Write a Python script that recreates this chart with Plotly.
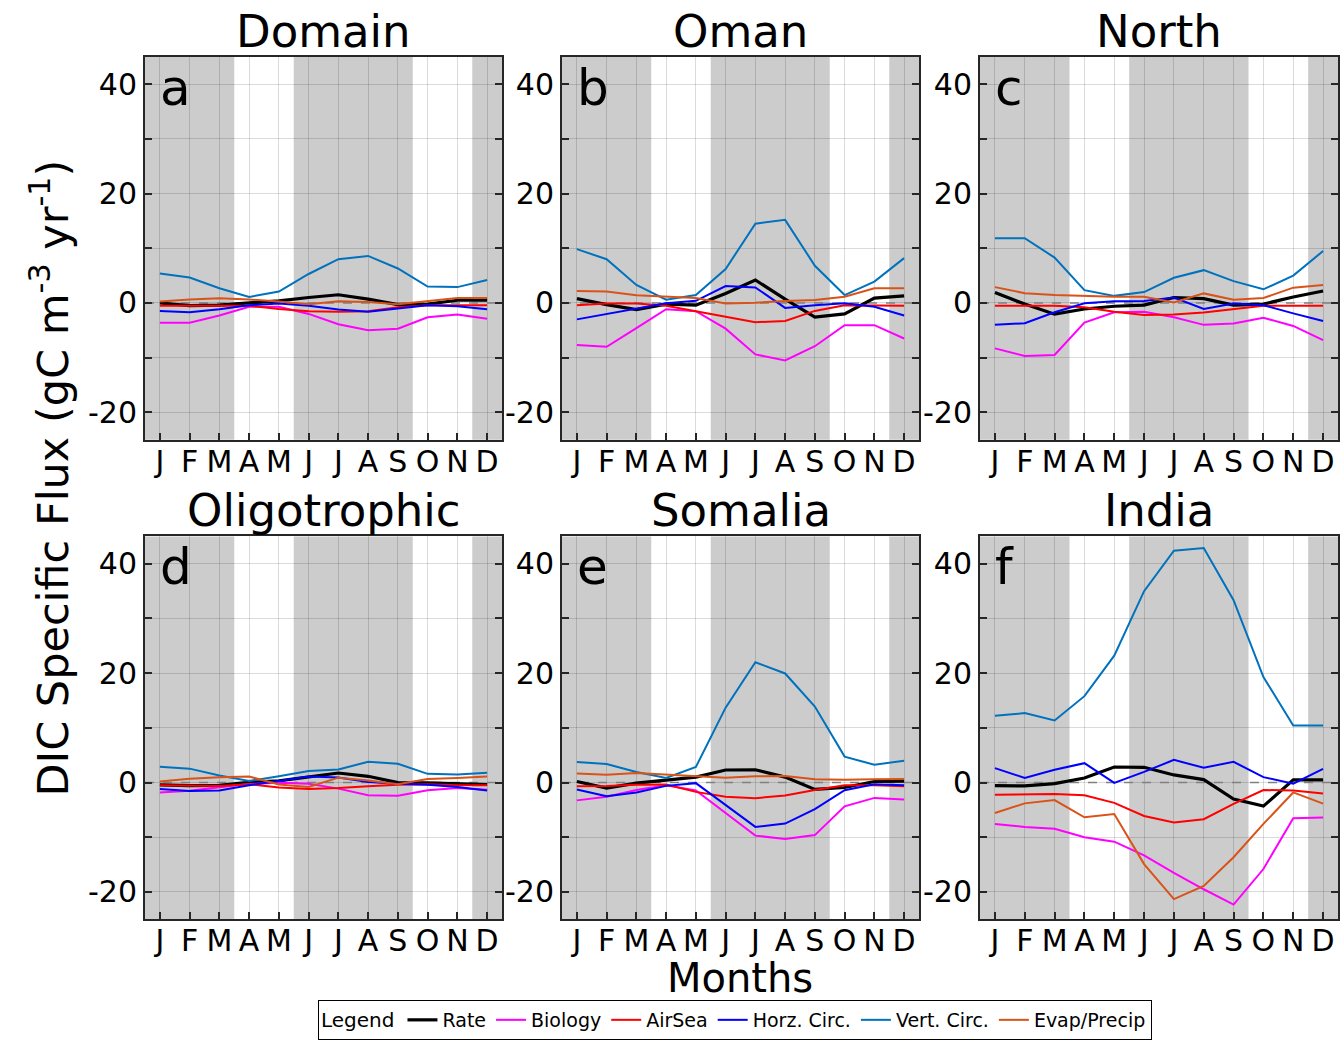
import plotly.graph_objects as go

W, H = 1341, 1040

months = [1, 2, 3, 4, 5, 6, 7, 8, 9, 10, 11, 12]
month_labels = ["J", "F", "M", "A", "M", "J", "J", "A", "S", "O", "N", "D"]
regions = ["Domain", "Oman", "North", "Oligotrophic", "Somalia", "India"]
panel_letters = ["a", "b", "c", "d", "e", "f"]
series_names = ["Rate", "Biology", "AirSea", "Horz. Circ.", "Vert. Circ.", "Evap/Precip"]
# shaded monsoon seasons (month coordinates)
season_bounds = [(0.5, 3.5), (5.5, 9.5), (11.5, 12.5)]
x_range = [0.5, 12.5]
zero_ref = [0, 0]

# ---- Domain (a)
domain_rate = [0.0, -0.5, -0.4, 0.0, 0.4, 1.0, 1.5, 0.7, -0.3, -0.2, 0.5, 0.5]
domain_bio = [-3.6, -3.6, -2.3, -0.7, -0.7, -2.0, -3.9, -5.0, -4.7, -2.6, -2.1, -2.9]
domain_airsea = [-0.5, -0.5, -0.5, -0.5, -1.1, -1.5, -1.6, -1.5, -0.8, -0.4, -0.4, -0.4]
domain_horz = [-1.45, -1.7, -1.15, -0.4, -0.1, -0.5, -1.2, -1.6, -1.0, -0.4, -0.6, -1.15]
domain_vert = [5.4, 4.65, 2.7, 1.1, 2.1, 5.3, 8.0, 8.6, 6.3, 3.0, 2.9, 4.2]
domain_evap = [0.25, 0.65, 0.85, 0.65, 0.25, -0.25, 0.3, 0.2, -0.25, 0.3, 0.9, 0.9]

# ---- Oman (b)
oman_rate = [0.8, -0.3, -1.2, -0.2, -0.4, 1.75, 4.2, 0.7, -2.6, -2.0, 0.9, 1.3]
oman_bio = [-7.7, -8.0, -4.6, -1.15, -1.5, -4.7, -9.4, -10.5, -7.9, -4.05, -4.05, -6.5]
oman_airsea = [-0.4, -0.1, -0.1, -0.5, -1.5, -2.5, -3.5, -3.3, -1.45, -0.4, -0.5, -0.5]
oman_horz = [-3.0, -2.05, -1.0, -0.05, 0.4, 3.1, 2.85, -0.9, -0.4, -0.05, -0.7, -2.3]
oman_vert = [9.85, 8.0, 3.3, 0.6, 1.45, 6.2, 14.5, 15.2, 6.8, 1.45, 3.9, 8.2]
oman_evap = [2.2, 2.1, 1.4, 1.15, 0.9, -0.1, 0.05, 0.35, 0.55, 1.15, 2.7, 2.7]

# ---- North (c)
north_rate = [1.9, -0.2, -2.05, -1.1, -0.6, -0.4, 1.0, 0.8, -0.4, -0.2, 1.1, 2.2]
north_bio = [-8.3, -9.7, -9.5, -3.6, -1.7, -1.6, -2.6, -4.0, -3.75, -2.7, -4.2, -6.8]
north_airsea = [-0.5, -0.5, -0.5, -0.8, -1.6, -2.2, -2.1, -1.75, -1.1, -0.5, -0.5, -0.5]
north_horz = [-4.0, -3.7, -1.7, -0.05, 0.3, 0.35, 1.0, -1.1, -0.1, -0.4, -1.9, -3.3]
north_vert = [11.85, 11.85, 8.3, 2.35, 1.3, 2.0, 4.6, 6.0, 4.0, 2.5, 5.0, 9.5]
north_evap = [2.9, 1.8, 1.45, 1.25, 1.15, 1.15, 0.1, 1.75, 0.6, 0.9, 2.8, 3.3]

# ---- Oligotrophic (d)
oligo_rate = [-0.4, -0.55, -0.5, 0.05, 0.3, 1.0, 1.75, 1.15, 0.0, -0.05, -0.2, -0.35]
oligo_bio = [-1.8, -1.5, -0.85, -0.25, -0.05, -0.2, -1.1, -2.3, -2.4, -1.4, -1.0, -1.3]
oligo_airsea = [-0.5, -0.6, -0.6, -0.3, -0.9, -1.15, -1.0, -0.65, -0.4, -0.3, -0.5, -0.5]
oligo_horz = [-1.15, -1.55, -1.45, -0.5, 0.3, 1.1, 0.95, 0.1, -0.2, -0.4, -0.8, -1.45]
oligo_vert = [2.9, 2.55, 1.3, 0.3, 1.15, 2.1, 2.4, 3.8, 3.45, 1.6, 1.5, 1.8]
oligo_evap = [0.2, 0.7, 1.0, 1.1, -0.35, -0.8, 0.9, 0.4, -0.3, 0.65, 0.85, 1.1]

# ---- Somalia (e)
somalia_rate = [0.2, -1.0, -0.1, 0.4, 1.0, 2.3, 2.35, 1.0, -1.25, -0.9, 0.2, 0.25]
somalia_bio = [-3.25, -2.6, -1.35, -0.5, -1.45, -5.5, -9.7, -10.3, -9.6, -4.35, -2.8, -3.1]
somalia_airsea = [-0.65, -0.6, -0.4, -0.35, -1.7, -2.6, -2.85, -2.35, -1.35, -0.5, -0.5, -0.65]
somalia_horz = [-1.25, -2.5, -1.8, -0.6, -0.1, -4.05, -8.1, -7.5, -4.85, -1.4, -0.3, -0.5]
somalia_vert = [3.75, 3.4, 1.95, 0.85, 2.85, 13.7, 22.0, 19.95, 13.9, 4.75, 3.25, 4.0]
somalia_evap = [1.65, 1.45, 1.75, 1.45, 1.2, 0.9, 1.15, 1.2, 0.6, 0.5, 0.6, 0.65]

# ---- India (f)
india_rate = [-0.55, -0.6, -0.2, 0.85, 2.85, 2.8, 1.4, 0.55, -3.0, -4.3, 0.5, 0.5]
india_bio = [-7.55, -8.1, -8.45, -10.0, -10.8, -13.3, -16.5, -19.5, -22.3, -15.8, -6.5, -6.4]
india_airsea = [-2.2, -2.2, -2.1, -2.3, -3.7, -6.1, -7.3, -6.7, -3.9, -1.35, -1.45, -2.0]
india_horz = [2.65, 0.85, 2.35, 3.55, -0.05, 1.95, 4.15, 2.7, 3.8, 1.0, -0.2, 2.5]
india_vert = [12.2, 12.7, 11.35, 15.8, 23.2, 35.0, 42.4, 42.9, 33.35, 19.3, 10.45, 10.45]
india_evap = [-5.55, -3.8, -3.2, -6.35, -5.75, -14.9, -21.3, -18.9, -13.65, -7.55, -1.8, -3.85]

y_tickvals = [-20, -10, 0, 10, 20, 30, 40]
y_ticktext = ["-20", "", "0", "", "20", "", "40"]

region_data = [
    [domain_rate, domain_bio, domain_airsea, domain_horz, domain_vert, domain_evap],
    [oman_rate, oman_bio, oman_airsea, oman_horz, oman_vert, oman_evap],
    [north_rate, north_bio, north_airsea, north_horz, north_vert, north_evap],
    [oligo_rate, oligo_bio, oligo_airsea, oligo_horz, oligo_vert, oligo_evap],
    [somalia_rate, somalia_bio, somalia_airsea, somalia_horz, somalia_vert, somalia_evap],
    [india_rate, india_bio, india_airsea, india_horz, india_vert, india_evap],
]

colors = ["#000000", "#FF00FF", "#FF0000", "#0000FF", "#0072BD", "#D95319"]
widths = [3.2, 2, 2, 2, 2, 2]

FONT = "DejaVu Sans"
AXC = "#262626"
GRID = "rgba(0,0,0,0.14)"

# panel pixel boxes
col_x = [(145, 502), (562, 919), (980, 1338)]
row_y = [(57, 441), (538, 922)]

fig = go.Figure()
layout = dict(
    width=W, height=H, margin=dict(l=0, r=0, t=0, b=0),
    paper_bgcolor="white", plot_bgcolor="white",
    font=dict(family=FONT, color="black"),
    showlegend=True,
)
annotations = []
shapes = []

for i in range(6):
    r, c = divmod(i, 3)
    n = i + 1
    xs = "" if n == 1 else str(n)
    xa, ya = "xaxis" + xs, "yaxis" + xs
    xref, yref = "x" + xs, "y" + xs
    x0, x1 = col_x[c]
    y0, y1 = row_y[r]
    dx = [x0 / W, x1 / W]
    dy = [1 - y1 / H, 1 - y0 / H]
    layout[xa] = dict(
        domain=dx, anchor=yref, range=x_range,
        tickmode="array", tickvals=months, ticktext=month_labels,
        tickfont=dict(size=30, family=FONT, color="black"),
        ticks="inside", ticklen=7, tickwidth=1.5, tickcolor=AXC,
        ticklabelstandoff=-6,
        showline=True, linecolor=AXC, linewidth=2, mirror=True,
        showgrid=True, gridcolor=GRID, gridwidth=1, zeroline=False,
        fixedrange=True,
    )
    layout[ya] = dict(
        domain=dy, anchor=xref, range=[-25, 45],
        tickmode="array", tickvals=y_tickvals, ticktext=y_ticktext,
        tickfont=dict(size=30, family=FONT, color="black"),
        ticks="inside", ticklen=7, tickwidth=1.5, tickcolor=AXC,
        showline=True, linecolor=AXC, linewidth=2, mirror="ticks",
        showgrid=True, gridcolor=GRID, gridwidth=1, zeroline=False,
        fixedrange=True,
    )
    for (s0, s1) in season_bounds:
        shapes.append(dict(type="rect", xref=xref, yref=yref + " domain",
                           x0=s0, x1=s1, y0=0, y1=1, layer="below",
                           fillcolor="#CCCCCC", line=dict(width=0)))
    # dashed zero reference line (drawn beneath the data lines)
    fig.add_trace(go.Scatter(
        x=x_range, y=zero_ref, mode="lines", showlegend=False, hoverinfo="skip",
        line=dict(color="#808080", width=1.5, dash="dash"),
        xaxis=xref, yaxis=yref,
    ))
    for k, name in enumerate(series_names):
        fig.add_trace(go.Scatter(
            x=months, y=region_data[i][k], mode="lines", name=name,
            line=dict(color=colors[k], width=widths[k]),
            xaxis=xref, yaxis=yref, showlegend=(i == 0),
        ))
    # region title
    annotations.append(dict(text=regions[i], x=(x0 + x1) / 2 / W, y=1 - y0 / H,
                            xref="paper", yref="paper", xanchor="center", yanchor="bottom",
                            showarrow=False, yshift=-3,
                            font=dict(size=45, family=FONT, color="black")))
    # panel letter
    annotations.append(dict(text=panel_letters[i], x=x0 / W, y=1 - y0 / H,
                            xref="paper", yref="paper", xanchor="left", yanchor="top",
                            showarrow=False, xshift=13, yshift=0,
                            font=dict(size=50, family=FONT, color="black")))

annotations.append(dict(text="DIC Specific Flux (gC m<sup>-3</sup> yr<sup>-1</sup>)",
                        x=50 / W, y=1 - 480 / H, xref="paper", yref="paper",
                        xanchor="center", yanchor="middle", textangle=-90, showarrow=False,
                        font=dict(size=43, family=FONT, color="black")))
annotations.append(dict(text="Months", x=740 / W, y=1 - 981 / H, xref="paper", yref="paper",
                        xanchor="center", yanchor="middle", showarrow=False,
                        font=dict(size=40, family=FONT, color="black")))

layout["annotations"] = annotations
layout["shapes"] = shapes
layout["legend"] = dict(
    orientation="h", x=735 / W, xanchor="center", y=1 - 1003 / H, yanchor="top",
    bordercolor="black", borderwidth=1, bgcolor="white",
    font=dict(size=19, family=FONT, color="black"),
    title=dict(text="Legend", side="left", font=dict(size=20, family=FONT, color="black")),
    itemwidth=30, tracegroupgap=0,
)

fig.update_layout(**layout)
fig.write_html("out.html")
